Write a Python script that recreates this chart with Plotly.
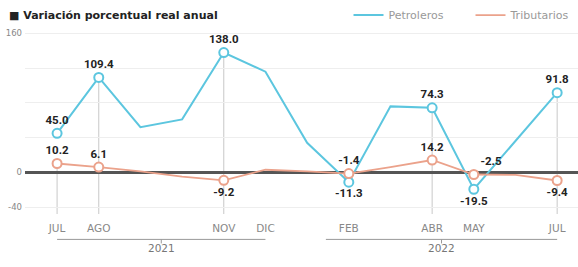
import plotly.graph_objects as go

months = ["JUL", "AGO", "SEP", "OCT", "NOV", "DIC", "ENE", "FEB", "MAR", "ABR", "MAY", "JUN", "JUL"]
petroleros = [45.0, 109.4, 52, 61, 138.0, 116, 34, -11.3, 76, 74.3, -19.5, 36, 91.8]
tributarios = [10.2, 6.1, 1, -5, -9.2, 3, 1, -1.4, 6, 14.2, -2.5, -3, -9.4]
labeled = [0, 1, 4, 7, 9, 10, 12]
petro_pos = ["top center", "top center", "top center", "bottom center", "top center", "bottom center", "top center"]
trib_pos = ["top center", "top center", "bottom center", "top center", "top center", "top right", "bottom center"]
shown_months = [0, 1, 4, 5, 7, 9, 10, 12]
years = ["2021", "2022"]
year_spans = [(0, 5), (6.45, 12)]
y_ticks = [-40, 0, 40, 80, 120, 160]
y_ticktext = ["-40", "0", "", "", "", "160"]

C_P = "#5cc6df"
C_T = "#eba28b"

x = list(range(len(months)))
fig = go.Figure()

# vertical guide lines from the top labelled marker down to plot bottom
for i in [0, 1, 4, 9, 12]:
    top = max(petroleros[i], tributarios[i]) if i != 0 else tributarios[i]
    fig.add_shape(type="line", xref="x", yref="y", x0=i, x1=i, y0=top, y1=-48,
                  line=dict(color="#c8c8c8", width=1), layer="below")

fig.add_trace(go.Scatter(x=x, y=petroleros, mode="lines", name="Petroleros",
                         line=dict(color=C_P, width=2)))
fig.add_trace(go.Scatter(x=x, y=tributarios, mode="lines", name="Tributarios",
                         line=dict(color=C_T, width=1.8)))

for vals, col, pos in [(petroleros, C_P, petro_pos), (tributarios, C_T, trib_pos)]:
    fig.add_trace(go.Scatter(
        x=[x[i] for i in labeled], y=[vals[i] for i in labeled],
        mode="markers+text", showlegend=False,
        text=[f"{vals[i]:.1f}" for i in labeled], textposition=pos,
        textfont=dict(family="Roboto", size=11.5, color="#222", weight="bold"),
        marker=dict(size=9, color="white", line=dict(color=col, width=2)),
        cliponaxis=False))

for (a, b), yr in zip(year_spans, years):
    fig.add_shape(type="line", xref="x", yref="paper", x0=a, x1=b, y0=-0.138, y1=-0.138,
                  line=dict(color="#999", width=1))
    fig.add_shape(type="line", xref="x", yref="paper", x0=(a + b) / 2, x1=(a + b) / 2,
                  y0=-0.138, y1=-0.16, line=dict(color="#999", width=1))
    fig.add_annotation(x=(a + b) / 2, y=-0.23, xref="x", yref="paper", text=yr,
                       showarrow=False, font=dict(family="DejaVu Sans", size=10.5, color="#777"))

fig.add_annotation(x=-0.033, y=1.081, xref="paper", yref="paper", xanchor="left", yanchor="middle",
                   text="■ Variación porcentual real anual", showarrow=False,
                   font=dict(family="DejaVu Sans", size=11, color="#222", weight="bold"))

fig.update_layout(
    width=578, height=267, margin=dict(l=25, r=0, t=30, b=52.5, autoexpand=False),
    plot_bgcolor="white", paper_bgcolor="white",
    showlegend=True,
    legend=dict(orientation="h", x=0.585, y=1.081, xanchor="left", yanchor="middle",
                font=dict(family="DejaVu Sans", size=11, color="#999"), itemwidth=30,
                entrywidth=77, entrywidthmode="pixels",
                bgcolor="rgba(0,0,0,0)"),
    xaxis=dict(range=[-0.77, 12.5], tickvals=shown_months, ticktext=[months[i] for i in shown_months],
               showgrid=False, zeroline=False, showline=False, ticks="", automargin=False,
               tickfont=dict(family="DejaVu Sans", size=10.5, color="#888"), ticklabelstandoff=6),
    yaxis=dict(range=[-48, 164], tickvals=y_ticks, ticktext=y_ticktext, showgrid=True,
               gridcolor="#eeeeee", gridwidth=1, zeroline=True, zerolinecolor="#555",
               zerolinewidth=2.5, showline=False, ticks="", automargin=False,
               tickfont=dict(family="DejaVu Sans", size=8.5, color="#888"), ticklabelstandoff=2),
)

fig.write_html("out.html", config={"displayModeBar": False},
               post_script="document.body.style.margin='0';document.body.style.overflow='hidden';")
